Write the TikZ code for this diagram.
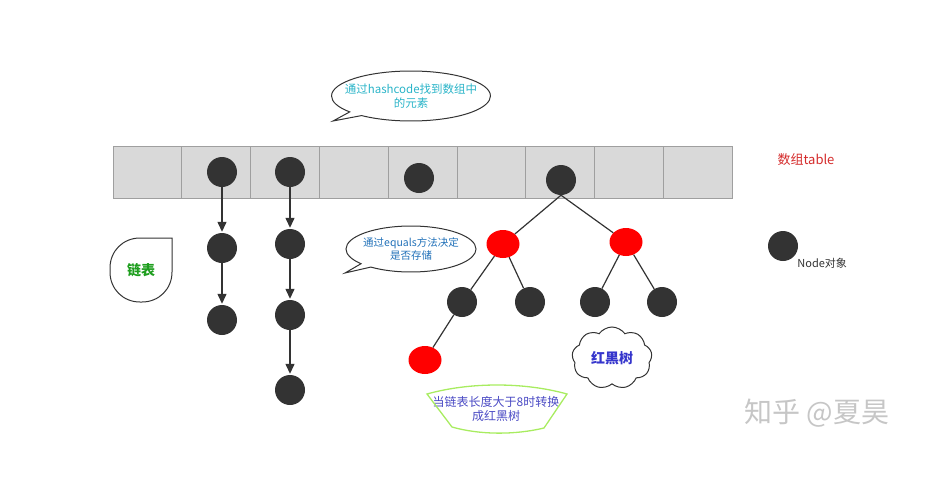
\documentclass[tikz,border=0pt]{standalone}
\usepackage{fontspec}
\setmainfont{Noto Sans CJK SC}
\usetikzlibrary{shapes, shapes.callouts, shapes.symbols, arrows, arrows.meta, positioning, calc}
\definecolor{nodegray}{HTML}{333333}
\definecolor{hashcyan}{HTML}{2AB4C8}
\definecolor{equalsblue}{HTML}{2070B8}
\definecolor{treeblue}{HTML}{3535CC}
\definecolor{fanblue}{HTML}{4A4AC4}
\definecolor{fangreen}{HTML}{A8EC60}
\definecolor{listgreen}{HTML}{1E9E1E}
\definecolor{tablered}{HTML}{D42A2A}

\begin{document}
\begin{tikzpicture}[x=1pt, y=-1pt]
  \tikzstyle{cell} = [rectangle, minimum width=68.8pt, minimum height=52pt, inner sep=0pt, draw=gray!75, fill=gray!30, line width=0.8pt]
  \tikzstyle{blacknode} = [circle, minimum size=30pt, inner sep=0pt, fill=nodegray]
  \tikzstyle{rednode} = [ellipse, minimum width=33pt, minimum height=28pt, inner sep=0pt, fill=red]
  \tikzstyle{arrow} = [line width=1.3pt, draw=nodegray, ->, >={Triangle[length=10pt,width=9pt]}, shorten >=1pt]
  \tikzstyle{line} = [line width=1.2pt, draw=nodegray]
  \tikzstyle{bubble} = [ellipse callout, draw=black!80, line width=1pt, align=center, inner ysep=0pt, callout pointer arc=12]
  \useasboundingbox (0,0) rectangle (930,482);
  % array
  \foreach \i in {0,...,8}
    \node (cell\i) [cell] at (147.4+68.8*\i, 172) {};
  \node (tablelabel) [text=tablered, font=\fontsize{13}{15}\selectfont] at (806,160) {数组table};
  % nodes in the array
  \node (t1) [blacknode] at (222,172) {};
  \node (t2) [blacknode] at (290,172) {};
  \node (t3) [blacknode] at (419,178) {};
  \node (root) [blacknode] at (561,180) {};
  % linked lists
  \node (c11) [blacknode] at (222,248) {};
  \node (c12) [blacknode] at (222,320) {};
  \node (c21) [blacknode] at (290,244) {};
  \node (c22) [blacknode] at (290,315) {};
  \node (c23) [blacknode] at (290,390) {};
  % red black tree
  \node (r1) [rednode] at (503,244) {};
  \node (r2) [rednode] at (626,242) {};
  \node (b1) [blacknode] at (462,302) {};
  \node (b2) [blacknode] at (530,302) {};
  \node (b3) [blacknode] at (595,302) {};
  \node (b4) [blacknode] at (662,302) {};
  \node (r3) [rednode] at (425,360) {};
  % legend
  \node (legend) [blacknode] at (783,246) {};
  \node (legendtext) [anchor=west, inner sep=0pt, text=nodegray, font=\fontsize{11}{13}\selectfont] at ($(legend.east)+(-1,17)$) {Node对象};
  % callouts
  \coordinate (hashtail) at (333,121);
  \node (hashnote) [bubble, inner xsep=-10pt, minimum width=158pt, minimum height=50pt, callout absolute pointer=(hashtail), text=hashcyan, font=\fontsize{11.5}{13.5}\selectfont] at (411,96) {通过hashcode找到数组中\\的元素};
  \coordinate (equalstail) at (345,273);
  \node (equalsnote) [bubble, inner xsep=-2pt, minimum width=130pt, minimum height=46pt, callout absolute pointer=(equalstail), text=equalsblue, font=\fontsize{10.5}{13}\selectfont] at (411,249) {通过equals方法决定\\是否存储};
  \node (listlabel) [text=listgreen, font=\bfseries\fontsize{14}{16}\selectfont] at (141,270) {链表};
  \draw [line width=1pt, draw=black!80] (172,238) -- (172,272) .. controls (172,289) and (159,302) .. (142,302) -- (140,302) .. controls (123,302) and (110,289) .. (110,272) -- (110,268) .. controls (110,251) and (123,238) .. (140,238) -- cycle;
  \node (rbtree) [cloud, cloud puffs=9, cloud puff arc=110, aspect=1.3, draw=black!80, line width=1pt, minimum width=80pt, minimum height=62pt, text=treeblue, font=\bfseries\fontsize{14}{16}\selectfont] at (612,358) {红黑树};
  \node (convert) [align=center, text=fanblue, font=\fontsize{12}{14.5}\selectfont] at (496,409) {当链表长度大于8时转换\\成红黑树};
  \draw [line width=1.3pt, draw=fangreen] (427,394) .. controls (470,382) and (524,382) .. (567,394) -- (544,428) .. controls (515,435) and (480,435) .. (452,427) -- cycle;
  % watermark
  \node (mark) [text=gray!45, font=\fontsize{28}{30}\selectfont] at (817,413) {知乎 @夏昊};
  % connectors
  \draw [arrow] (t1) -- (c11);
  \draw [arrow] (c11) -- (c12);
  \draw [arrow] (t2) -- (c21);
  \draw [arrow] (c21) -- (c22);
  \draw [arrow] (c22) -- (c23);
  \draw [line] (root.south) -- (r1);
  \draw [line] (root.south) -- (r2);
  \draw [line] (r1) -- (b1);
  \draw [line] (r1) -- (b2);
  \draw [line] (b1) -- (r3);
  \draw [line] (r2) -- (b3);
  \draw [line] (r2) -- (b4);
\end{tikzpicture}
\end{document}
